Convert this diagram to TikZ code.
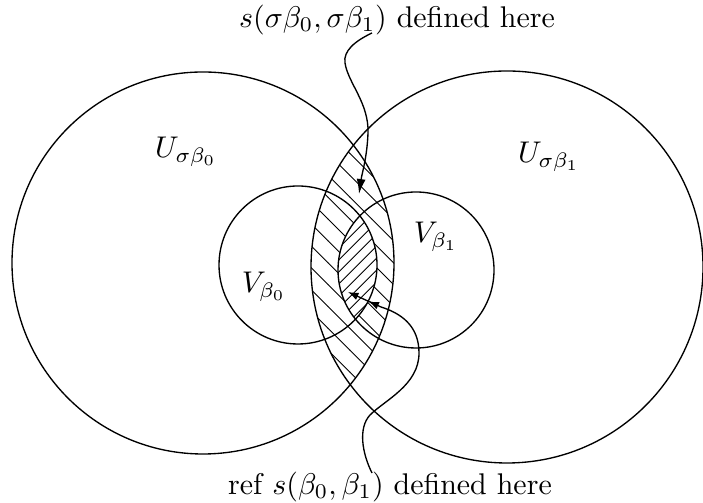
\documentclass[tikz,border=0pt]{standalone}
\usetikzlibrary{arrows.meta,patterns}
\pgfdeclarepatternformonly{sparsenw}{\pgfqpoint{-1pt}{-1pt}}{\pgfqpoint{8.3pt}{8.3pt}}{\pgfqpoint{7.3pt}{7.3pt}}{%
  \pgfsetlinewidth{0.3pt}%
  \pgfpathmoveto{\pgfqpoint{0pt}{7.3pt}}%
  \pgfpathlineto{\pgfqpoint{7.4pt}{-0.1pt}}%
  \pgfusepath{stroke}}
\pgfdeclarepatternformonly{densene}{\pgfqpoint{-1pt}{-1pt}}{\pgfqpoint{5pt}{5pt}}{\pgfqpoint{4pt}{4pt}}{%
  \pgfsetlinewidth{0.3pt}%
  \pgfpathmoveto{\pgfqpoint{0pt}{0pt}}%
  \pgfpathlineto{\pgfqpoint{4.1pt}{4.1pt}}%
  \pgfusepath{stroke}}
\begin{document}
\begin{tikzpicture}[x=0.334pt,y=0.334pt,
  ring/.style={draw, line width=0.45pt},
  lbl/.style={inner sep=1pt},
  conn/.style={line width=0.45pt},
  sparse/.style={pattern=sparsenw},
  dense/.style={pattern=densene}]
\useasboundingbox (0,0) rectangle (703,503);
\coordinate (cU0) at (203,240);
\coordinate (cU1) at (507,236);
\coordinate (cV0) at (298,238);
\coordinate (cV1) at (416,233);
% hatched lens of the big circles
\begin{scope}
  \clip (cU0) circle[radius=191];
  \fill[sparse] (cU1) circle[radius=196];
\end{scope}
% denser hatched lens of the small circles
\begin{scope}
  \clip (cV0) circle[radius=79];
  \fill[white] (cV1) circle[radius=78];
  \fill[dense] (cV1) circle[radius=78];
\end{scope}
\draw[ring] (cU0) circle[radius=191];
\draw[ring] (cU1) circle[radius=196];
\draw[ring] (cV0) circle[radius=79];
\draw[ring] (cV1) circle[radius=78];
% labels
\node[lbl] (U0) at (186,351) {$U_{\sigma\beta_0}$};
\node[lbl] (U1) at (549,346) {$U_{\sigma\beta_1}$};
\node[lbl] (V0) at (264,216) {$V_{\beta_0}$};
\node[lbl] (V1) at (436,266) {$V_{\beta_1}$};
\node[lbl] (topt) at (397,483) {$s(\sigma\beta_0,\sigma\beta_1)$ defined here};
\node[lbl] (bott) at (390,16) {ref $s(\beta_0,\beta_1)$ defined here};
% connectors
\coordinate (a0) at (372,470);
\coordinate (a1) at (359,309);
\coordinate (b0) at (372,30);
\coordinate (b1) at (348,211);
\draw[conn,-{Latex[length=5pt,width=3pt]}] (a0)
  .. controls (355,462) and (343,452) .. (345,440)
  .. controls (348,420) and (369,400) .. (368,370)
  .. controls (367,345) and (362,330) .. (a1);
\draw[conn,-{Latex[length=3.5pt,width=2.6pt,sep=4pt]Latex[length=3.5pt,width=2.6pt]}] (b0)
  .. controls (362,50) and (358,75) .. (370,88)
  .. controls (385,103) and (419,118) .. (419,150)
  .. controls (419,178) and (400,190) .. (381,196) -- (b1);
\end{tikzpicture}
\end{document}
